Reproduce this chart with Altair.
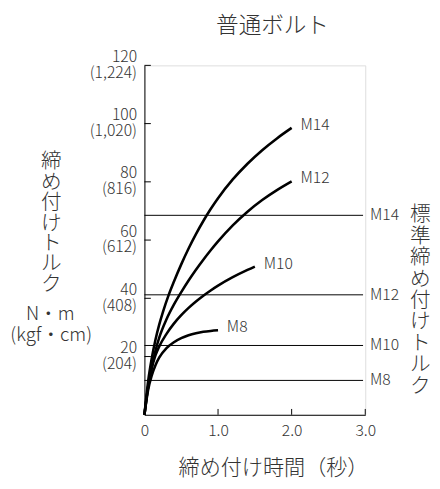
import altair as alt
import pandas as pd

FONT = "Noto Sans CJK JP"
TEXT_COLOR = "#333333"
WEIGHT = 300

title_text = "普通ボルト"
x_title = "締め付け時間（秒）"
y_title = "締め付けトルク"
y_unit_1 = "N・m"
y_unit_2 = "(kgf・cm)"
right_title = "標準締め付けトルク"

x_tick_values = [0, 1, 2, 3]
x_tick_labels = ["0", "1.0", "2.0", "3.0"]
y_tick_values = [20, 40, 60, 80, 100, 120]
y_tick_nm = ["20", "40", "60", "80", "100", "120"]
y_tick_kgf = ["(204)", "(408)", "(612)", "(816)", "(1,020)", "(1,224)"]

# tightening curves (time in s, torque in N·m)
m8_time = [0, 0.05, 0.1, 0.15, 0.2, 0.3, 0.4, 0.5, 0.6, 0.7, 0.8, 0.9, 1.0]
m8_torque = [0, 8.5, 13.5, 17.0, 19.6, 22.9, 24.9, 26.3, 27.3, 28.0, 28.5, 28.8, 29.0]
m10_time = [0, 0.05, 0.1, 0.15, 0.2, 0.3, 0.4, 0.5, 0.6, 0.7, 0.8, 0.9, 1.0, 1.2, 1.4, 1.5]
m10_torque = [0, 9.5, 16.0, 20.4, 23.4, 27.8, 31.3, 34.2, 36.7, 38.9, 40.9, 42.7, 44.35, 47.25, 49.75, 50.9]
m12_time = [0, 0.05, 0.1, 0.15, 0.2, 0.3, 0.4, 0.5, 0.6, 0.7, 0.8, 0.9, 1.0, 1.2, 1.4, 1.6, 1.8, 2.0]
m12_torque = [0, 9.5, 16.5, 22.0, 26.4, 32.8, 37.8, 42.1, 46.1, 49.8, 53.25, 56.5, 59.55, 65.05, 69.75, 73.75, 77.15, 80.15]
m14_time = [0, 0.05, 0.1, 0.15, 0.2, 0.25, 0.33, 0.4, 0.5, 0.6, 0.7, 0.8, 0.9, 1.0, 1.2, 1.4, 1.6, 1.8, 2.0]
m14_torque = [0, 11.5, 19.5, 25.8, 30.9, 35.2, 41.2, 45.7, 51.65, 57.1, 62.05, 66.55, 70.65, 74.37, 80.82, 86.22, 90.87, 94.92, 98.52]

curve_names = ["M8", "M10", "M12", "M14"]
curve_times = [m8_time, m10_time, m12_time, m14_time]
curve_torques = [m8_torque, m10_torque, m12_torque, m14_torque]

# standard tightening torque lines
std_names = ["M8", "M10", "M12", "M14"]
std_torque = [11.8, 23.8, 41.2, 68.5]
std_line_end = 2.97

rows = []
for name, ts, vs in zip(curve_names, curve_times, curve_torques):
    for i, (t, v) in enumerate(zip(ts, vs)):
        rows.append({"bolt": name, "i": i, "t": t, "v": v})
curves = pd.DataFrame(rows)
ends = pd.DataFrame({
    "bolt": curve_names,
    "t": [ts[-1] for ts in curve_times],
    "v": [vs[-1] for vs in curve_torques],
})
std = pd.DataFrame({"bolt": std_names, "t": [0] * 4, "t2": [std_line_end] * 4, "v": std_torque})
yticks = pd.DataFrame({"t": [0] * 6, "t2": [0.087] * 6, "v": y_tick_values})
xticks = pd.DataFrame({"t": x_tick_values[1:], "v": [0] * 3, "v2": [2.0] * 3})

xs = alt.Scale(domain=[0, 3], nice=False, zero=True)
ys = alt.Scale(domain=[0, 120], nice=False, zero=True)

x_label_expr = "[" + ",".join(f"'{s}'" for s in x_tick_labels) + "][indexof([" + ",".join(str(v) for v in x_tick_values) + "], datum.value)]"
y_label_expr = "[" + ",".join(f"['{a}','{b}']" for a, b in zip(y_tick_nm, y_tick_kgf)) + "][indexof([" + ",".join(str(v) for v in y_tick_values) + "], datum.value)]"

x_axis = alt.Axis(
    values=x_tick_values, labelExpr=x_label_expr, ticks=False, grid=False,
    domainColor="black", domainWidth=1, labelFont=FONT, labelFontSize=16,
    labelFontWeight=WEIGHT, labelColor=TEXT_COLOR, labelPadding=8,
    title=x_title, titleFont=FONT, titleFontSize=21.5, titleFontWeight=WEIGHT,
    titleColor=TEXT_COLOR, titleX=131, titleY=55, titleBaseline="middle",
    titleAnchor="middle", labelFlush=False,
)
y_axis = alt.Axis(
    values=y_tick_values, labelExpr=y_label_expr, ticks=False, grid=False,
    domainColor="black", domainWidth=1, labelFont=FONT, labelFontSize=16,
    labelFontWeight=WEIGHT, labelColor=TEXT_COLOR, labelPadding=8,
    labelLineHeight=16, labelBaseline="middle", labelOffset=-9, title=None,
    labelFlush=False,
)

lines = alt.Chart(curves).mark_line(color="black", strokeWidth=2.6, interpolate="monotone").encode(
    x=alt.X("t:Q", scale=xs, axis=x_axis),
    y=alt.Y("v:Q", scale=ys, axis=y_axis),
    detail="bolt:N",
    order="i:Q",
)
end_labels = alt.Chart(ends).mark_text(
    align="left", baseline="middle", dx=9, dy=-3, font=FONT, fontSize=16,
    fontWeight=WEIGHT, color=TEXT_COLOR
).encode(x="t:Q", y="v:Q", text="bolt:N")

std_rules = alt.Chart(std).mark_rule(color="black", strokeWidth=1).encode(
    x="t:Q", x2="t2:Q", y="v:Q"
)
std_labels = alt.Chart(std).mark_text(
    align="left", baseline="middle", dx=7, font=FONT, fontSize=16,
    fontWeight=WEIGHT, color=TEXT_COLOR
).encode(x="t2:Q", y="v:Q", text="bolt:N")

ytick_rules = alt.Chart(yticks).mark_rule(color="black", strokeWidth=1).encode(
    x="t:Q", x2="t2:Q", y="v:Q"
)
xtick_rules = alt.Chart(xticks).mark_rule(color="black", strokeWidth=1).encode(
    x="t:Q", y="v:Q", y2="v2:Q"
)

one = pd.DataFrame({"k": [0]})
def note(text, x, y, size, lh=None):
    kw = dict(align="center", baseline="middle", font=FONT, fontSize=size,
              fontWeight=WEIGHT, color=TEXT_COLOR)
    if lh is not None:
        kw.update(lineBreak="\n", lineHeight=lh)
    return alt.Chart(one).mark_text(**kw).encode(
        x=alt.value(x), y=alt.value(y), text=alt.value(text)
    )

title_mark = note(title_text, 130.5, -40, 23)
ytitle_mark = note("\n".join(y_title), -95, 99, 21, 20.8)
unit1 = note(y_unit_1, -96, 253, 19)
unit2 = note(y_unit_2, -95, 275, 19)
right_mark = note("\n".join(right_title), 281, 153, 21, 21.8)

chart = alt.layer(
    std_rules, ytick_rules, xtick_rules, lines, end_labels, std_labels,
    title_mark, ytitle_mark, unit1, unit2, right_mark,
).properties(
    width=225, height=356,
    padding={"left": 139, "top": 54, "right": 68, "bottom": 62},
    autosize=alt.AutoSizeParams(type="none"),
).configure_view(stroke=None).configure(font=FONT)

chart.save("out.html", embed_options={"renderer": "svg", "actions": False})
